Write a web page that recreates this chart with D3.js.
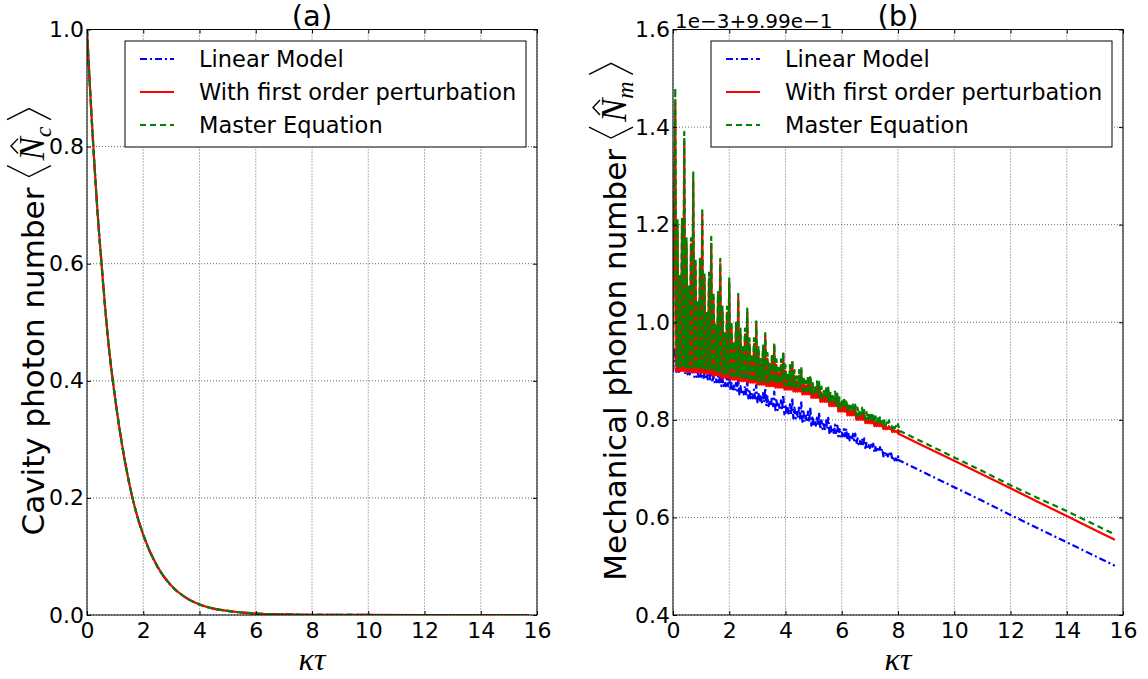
<!DOCTYPE html>
<html><head><meta charset="utf-8">
<script src="https://cdn.jsdelivr.net/npm/d3@7"></script>
<style>body{margin:0;background:#fff} svg{display:block}</style>
</head><body><svg id="c" width="1148" height="679" font-family="DejaVu Sans, sans-serif"></svg>
<script>
// ---------------- data ----------------
const seriesNames = ["Linear Model", "With first order perturbation", "Master Equation"];
const xTicks = [0, 2, 4, 6, 8, 10, 12, 14, 16];
const yTicksA = [0.0, 0.2, 0.4, 0.6, 0.8, 1.0];
const yTicksB = [0.4, 0.6, 0.8, 1.0, 1.2, 1.4, 1.6];
const offsetLabelB = "1e\u22123+9.99e\u22121";

// panel (a): cavity photon number
const tA = [0, 0.1, 0.25, 0.375, 0.5, 0.75, 1, 1.25, 1.5, 1.75, 2, 2.5, 3, 3.5, 4, 4.5, 5, 6, 7, 8, 10, 12, 14, 15.71];
const ncLinear = [1, 0.905, 0.78, 0.687, 0.61, 0.47, 0.37, 0.29, 0.225, 0.175, 0.137, 0.083, 0.05, 0.03, 0.018, 0.011, 0.007, 0.0025, 0.001, 0.0003, 0.00005, 0, 0, 0];
const ncFirst  = [1, 0.905, 0.78, 0.687, 0.61, 0.47, 0.37, 0.29, 0.225, 0.175, 0.137, 0.083, 0.05, 0.03, 0.018, 0.011, 0.007, 0.0025, 0.001, 0.0003, 0.00005, 0, 0, 0];
const ncMaster = [1, 0.905, 0.78, 0.687, 0.61, 0.47, 0.37, 0.29, 0.225, 0.175, 0.137, 0.083, 0.05, 0.03, 0.018, 0.011, 0.007, 0.0025, 0.001, 0.0003, 0.00005, 0, 0, 0];

// panel (b): mechanical phonon number (offset 1e-3, +0.999); oscillating part read as extrema
const spikeT = [0.08, 0.40, 0.72, 1.04, 1.36, 1.68, 2.00, 2.32, 2.64, 2.96, 3.28, 3.60, 3.92, 4.24, 4.56, 4.88, 5.20, 5.52, 5.84, 6.16, 6.48, 6.80, 7.12, 7.44, 7.76];
const extStep = 0.04;
const redSpike  = [1.45, 1.37, 1.29, 1.22, 1.16, 1.12, 1.08, 1.05, 1.02, 0.995, 0.972, 0.952, 0.934, 0.918, 0.902, 0.886, 0.872, 0.860, 0.848, 0.836, 0.825, 0.814, 0.803, 0.792, 0.782];
const redMidA   = [1.20, 1.16, 1.12, 1.09, 1.05, 1.02, 0.99, 0.975, 0.955, 0.94, 0.925, 0.912, 0.90, 0.89, 0.878, 0.867, 0.856, 0.846, 0.834, 0.823, 0.813, 0.804, 0.795, 0.787, 0.779];
const redMidB   = [1.09, 1.063, 1.035, 1.009, 0.985, 0.968, 0.951, 0.939, 0.926, 0.915, 0.905, 0.896, 0.887, 0.879, 0.87, 0.859, 0.849, 0.839, 0.828, 0.818, 0.809, 0.80, 0.793, 0.785, 0.777];
const redTrough = [0.90, 0.898, 0.897, 0.895, 0.891, 0.886, 0.882, 0.879, 0.876, 0.872, 0.869, 0.866, 0.862, 0.858, 0.852, 0.845, 0.837, 0.828, 0.817, 0.809, 0.80, 0.793, 0.787, 0.781, 0.775];
const greenSpike  = [1.48, 1.39, 1.31, 1.235, 1.175, 1.13, 1.09, 1.058, 1.028, 1.002, 0.978, 0.958, 0.94, 0.924, 0.908, 0.892, 0.878, 0.866, 0.854, 0.842, 0.831, 0.82, 0.809, 0.798, 0.788];
const greenMidA   = [1.212, 1.172, 1.132, 1.102, 1.062, 1.032, 1.002, 0.987, 0.967, 0.952, 0.937, 0.924, 0.912, 0.902, 0.89, 0.879, 0.868, 0.858, 0.846, 0.835, 0.825, 0.816, 0.807, 0.799, 0.791];
const greenMidB   = [1.10, 1.073, 1.045, 1.019, 0.995, 0.978, 0.961, 0.949, 0.936, 0.925, 0.915, 0.906, 0.897, 0.889, 0.88, 0.869, 0.859, 0.849, 0.838, 0.828, 0.819, 0.81, 0.803, 0.795, 0.787];
const greenTrough = [0.908, 0.906, 0.905, 0.903, 0.899, 0.894, 0.89, 0.887, 0.884, 0.88, 0.877, 0.874, 0.87, 0.866, 0.86, 0.853, 0.845, 0.836, 0.825, 0.817, 0.808, 0.80, 0.794, 0.788, 0.782];
const blueSpike  = [0.948, 0.93, 0.918, 0.91, 0.903, 0.897, 0.89, 0.883, 0.877, 0.871, 0.865, 0.858, 0.852, 0.845, 0.836, 0.826, 0.815, 0.804, 0.793, 0.782, 0.772, 0.762, 0.751, 0.741, 0.731];
const blueMidA   = [0.925, 0.912, 0.904, 0.897, 0.89, 0.884, 0.876, 0.869, 0.862, 0.855, 0.848, 0.84, 0.832, 0.825, 0.817, 0.808, 0.799, 0.79, 0.781, 0.771, 0.762, 0.753, 0.744, 0.734, 0.725];
const blueMidB   = [0.91, 0.902, 0.896, 0.891, 0.885, 0.878, 0.87, 0.862, 0.855, 0.848, 0.84, 0.832, 0.824, 0.816, 0.808, 0.80, 0.791, 0.782, 0.774, 0.765, 0.757, 0.748, 0.74, 0.73, 0.721];
const blueTrough = [0.898, 0.893, 0.888, 0.883, 0.877, 0.869, 0.86, 0.852, 0.844, 0.836, 0.828, 0.82, 0.811, 0.803, 0.796, 0.788, 0.781, 0.773, 0.766, 0.758, 0.75, 0.742, 0.734, 0.725, 0.717];
const tailT     = [8, 9, 10, 11, 12, 13, 14, 15, 15.71];
const redTail   = [0.772, 0.744, 0.716, 0.688, 0.660, 0.631, 0.603, 0.574, 0.554];
const greenTail = [0.779, 0.751, 0.723, 0.695, 0.666, 0.639, 0.613, 0.585, 0.565];
const blueTail  = [0.718, 0.690, 0.662, 0.634, 0.605, 0.577, 0.549, 0.521, 0.501];

// ---------------- drawing ----------------
const svg = d3.select('#c');
const SERIF = 'Liberation Serif, DejaVu Serif, serif';
const styles = [
  {color: '#0000ff', dash: '7,3,2,3', width: 2.2},
  {color: '#ff0000', dash: null, width: 2.2},
  {color: '#008000', dash: '6,4', width: 2.2}
];

function zig(spk, midA, midB, tr, tail) {
  const pts = [[0, tr[0]]];
  spikeT.forEach((t, k) => {
    const seq = [spk[k], tr[k], midA[k], tr[k], midB[k], tr[k], midA[k], tr[k]];
    seq.forEach((v, j) => pts.push([t + j * extStep, v]));
  });
  tailT.forEach((t, i) => pts.push([t, tail[i]]));
  return pts;
}

function yLabel(bx, cy, main, sub) {
  const grp = svg.append('g').attr('transform', `translate(${bx},${cy}) rotate(-90)`);
  const inner = grp.append('g');
  const t1 = inner.append('text').attr('x', 0).attr('y', 0).attr('font-size', 31).text(main);
  let w = t1.node().getComputedTextLength() + 11;
  const br = (d) => inner.append('path').attr('d', d).attr('fill', 'none').attr('stroke', '#000').attr('stroke-width', 1.4);
  br(`M${w + 11},-37 L${w},-15 L${w + 11},7`);
  w += 16;
  const tn = inner.append('text').attr('x', w).attr('y', 0).attr('font-family', SERIF).attr('font-style', 'italic').attr('font-size', 35).text('N');
  const wn = tn.node().getComputedTextLength();
  inner.append('path').attr('d', `M${w + wn * 0.3},-26 L${w + wn * 0.62},-33 L${w + wn * 0.94},-26`).attr('fill', 'none').attr('stroke', '#000').attr('stroke-width', 1.4);
  w += wn;
  const ts = inner.append('text').attr('x', w).attr('y', 7).attr('font-family', SERIF).attr('font-style', 'italic').attr('font-size', 24).text(sub);
  w += ts.node().getComputedTextLength() + 7;
  br(`M${w},-37 L${w + 11},-15 L${w},7`);
  w += 11;
  inner.attr('transform', `translate(${-w / 2},0)`);
}

function panel(o) {
  const x = d3.scaleLinear([0, 16], [o.x0, o.x1]);
  const y = d3.scaleLinear(o.yDomain, [615, 29.5]);
  const g = svg.append('g');
  const id = 'clip' + o.key;
  svg.append('clipPath').attr('id', id).append('rect')
    .attr('x', o.x0).attr('y', 29.5).attr('width', o.x1 - o.x0).attr('height', 615 - 29.5);

  // grid
  const grid = g.append('g').attr('stroke', '#444').attr('stroke-width', 0.8).attr('stroke-dasharray', '1,2');
  xTicks.forEach(v => grid.append('line').attr('x1', x(v)).attr('x2', x(v)).attr('y1', 29.5).attr('y2', 615));
  o.yTicks.forEach(v => grid.append('line').attr('x1', o.x0).attr('x2', o.x1).attr('y1', y(v)).attr('y2', y(v)));

  // data
  const line = d3.line().x(d => x(d[0])).y(d => y(d[1])).curve(o.curve);
  const dg = g.append('g').attr('clip-path', `url(#${id})`);
  o.series.forEach((pts, i) => {
    const s = styles[i];
    dg.append('path').attr('d', line(pts)).attr('fill', 'none').attr('stroke', s.color)
      .attr('stroke-width', s.width).attr('stroke-dasharray', s.dash).attr('stroke-linejoin', 'round');
  });

  // axes
  const fmtY = d3.format('.1f');
  const ax = (a) => a.tickSizeOuter(0);
  const bottom = g.append('g').attr('transform', 'translate(0,615)')
    .call(ax(d3.axisBottom(x).tickValues(xTicks).tickSizeInner(-4).tickPadding(7).tickFormat(d3.format('d'))));
  const top = g.append('g').attr('transform', 'translate(0,29.5)')
    .call(ax(d3.axisTop(x).tickValues(xTicks).tickSizeInner(-4).tickFormat(() => '')));
  const left = g.append('g').attr('transform', `translate(${o.x0},0)`)
    .call(ax(d3.axisLeft(y).tickValues(o.yTicks).tickSizeInner(-4).tickPadding(3).tickFormat(fmtY)));
  const right = g.append('g').attr('transform', `translate(${o.x1},0)`)
    .call(ax(d3.axisRight(y).tickValues(o.yTicks).tickSizeInner(-4).tickFormat(() => '')));
  [bottom, top, left, right].forEach(a => {
    a.select('.domain').remove();
    a.attr('font-family', 'DejaVu Sans, sans-serif').attr('font-size', 22);
    a.selectAll('text').attr('fill', '#000');
    a.selectAll('line').attr('stroke', '#000');
  });
  g.append('rect').attr('x', o.x0).attr('y', 29.5).attr('width', o.x1 - o.x0).attr('height', 615 - 29.5)
    .attr('fill', 'none').attr('stroke', '#000').attr('stroke-width', 1);

  // title, x label
  g.append('text').attr('x', (o.x0 + o.x1) / 2).attr('y', 26).attr('text-anchor', 'middle').attr('font-size', 29).text(o.title);
  g.append('text').attr('x', (o.x0 + o.x1) / 2).attr('y', 670).attr('text-anchor', 'middle')
    .attr('font-family', SERIF).attr('font-style', 'italic').attr('font-size', 32).text('\u03ba\u03c4');

  // legend
  const lx = o.x0 + 38, ly = 41, lw = 401, lh = 106;
  const lg = g.append('g');
  lg.append('rect').attr('x', lx).attr('y', ly).attr('width', lw).attr('height', lh)
    .attr('fill', '#fff').attr('stroke', '#000').attr('stroke-width', 1);
  seriesNames.forEach((n, i) => {
    const cy = ly + 18 + i * 33;
    const s = styles[i];
    lg.append('line').attr('x1', lx + 15).attr('x2', lx + 49).attr('y1', cy).attr('y2', cy)
      .attr('stroke', s.color).attr('stroke-width', s.width).attr('stroke-dasharray', s.dash);
    lg.append('text').attr('x', lx + 74).attr('y', cy).attr('dy', '0.36em').attr('font-size', 22.5).text(n);
  });
}

panel({
  key: 'a', x0: 87, x1: 537, yDomain: [0, 1], yTicks: yTicksA, title: '(a)', curve: d3.curveMonotoneX,
  series: [tA.map((t, i) => [t, ncLinear[i]]), tA.map((t, i) => [t, ncFirst[i]]), tA.map((t, i) => [t, ncMaster[i]])]
});
panel({
  key: 'b', x0: 673, x1: 1123, yDomain: [0.4, 1.6], yTicks: yTicksB, title: '(b)', curve: d3.curveLinear,
  series: [zig(blueSpike, blueMidA, blueMidB, blueTrough, blueTail), zig(redSpike, redMidA, redMidB, redTrough, redTail), zig(greenSpike, greenMidA, greenMidB, greenTrough, greenTail)]
});
svg.append('text').attr('x', 675).attr('y', 28).attr('font-size', 20).text(offsetLabelB);

yLabel(44, 322, 'Cavity photon number', 'c');
yLabel(626, 322, 'Mechanical phonon number', 'm');
</script></body></html>
